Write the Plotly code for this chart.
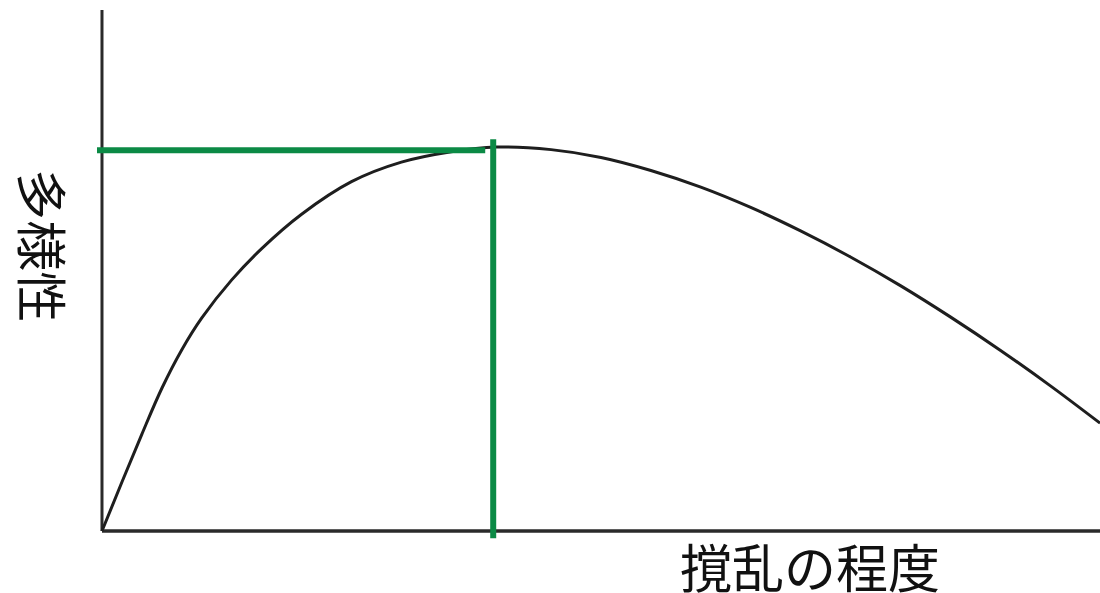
import plotly.graph_objects as go

# Curve: diversity vs. degree of disturbance (0-100 scales)
disturbance = [0, 2, 4, 6, 8, 10, 13, 16, 20, 25, 30, 35, 39.5,
               45, 50, 55, 60, 65, 70, 75, 80, 85, 90, 95, 100]
diversity = [0, 9.4, 18.6, 27.4, 34.8, 40.9, 48.2, 54.2, 60.8, 67.05, 70.8, 72.8, 73.7,
             73.2, 71.7, 69.2, 66.0, 62.1, 57.6, 52.6, 47.1, 41.1, 34.7, 27.9, 20.7]

# Green guide lines marking the peak
peak_x = 39.2
peak_y = 73.1
hline_x = [-0.5, 38.4]
vline_y = [-1.4, 75.2]

x_label = "撹乱の程度"
y_label = "多様性"

green = "#0b8a45"

fig = go.Figure()

# axes drawn as lines
fig.add_trace(go.Scatter(x=[0, 0], y=[0, 100], mode="lines",
                         line=dict(color="#2a2a2a", width=3), hoverinfo="skip"))
fig.add_trace(go.Scatter(x=[0, 100.6], y=[0, 0], mode="lines",
                         line=dict(color="#2a2a2a", width=3.5), hoverinfo="skip"))

fig.add_trace(go.Scatter(x=disturbance, y=diversity, mode="lines",
                         line=dict(color="#1e1e1e", width=3, shape="spline", smoothing=1.0),
                         hoverinfo="skip"))

fig.add_trace(go.Scatter(x=hline_x, y=[peak_y, peak_y], mode="lines",
                         line=dict(color=green, width=6), hoverinfo="skip"))
fig.add_trace(go.Scatter(x=[peak_x, peak_x], y=vline_y, mode="lines",
                         line=dict(color=green, width=6), hoverinfo="skip"))

fig.add_annotation(text=x_label, xref="paper", yref="paper", x=0.711, y=-0.047,
                   xanchor="center", yanchor="middle", showarrow=False,
                   font=dict(family="Noto Sans CJK JP", size=52, color="#111111"))
fig.add_annotation(text=y_label, xref="paper", yref="paper", x=-0.0513, y=0.556,
                   xanchor="center", yanchor="middle", showarrow=False, textangle=90,
                   font=dict(family="Noto Sans CJK JP", size=51, color="#111111"))

fig.update_layout(
    width=1100, height=593,
    margin=dict(l=96, r=0, t=10, b=52),
    paper_bgcolor="white", plot_bgcolor="white",
    showlegend=False,
    xaxis=dict(range=[-0.6, 100], visible=False, fixedrange=True),
    yaxis=dict(range=[-1.92, 100], visible=False, fixedrange=True),
)

fig.write_html("out.html", config={"displayModeBar": False},
               post_script="document.body.style.margin='0';document.body.style.overflow='hidden';")
